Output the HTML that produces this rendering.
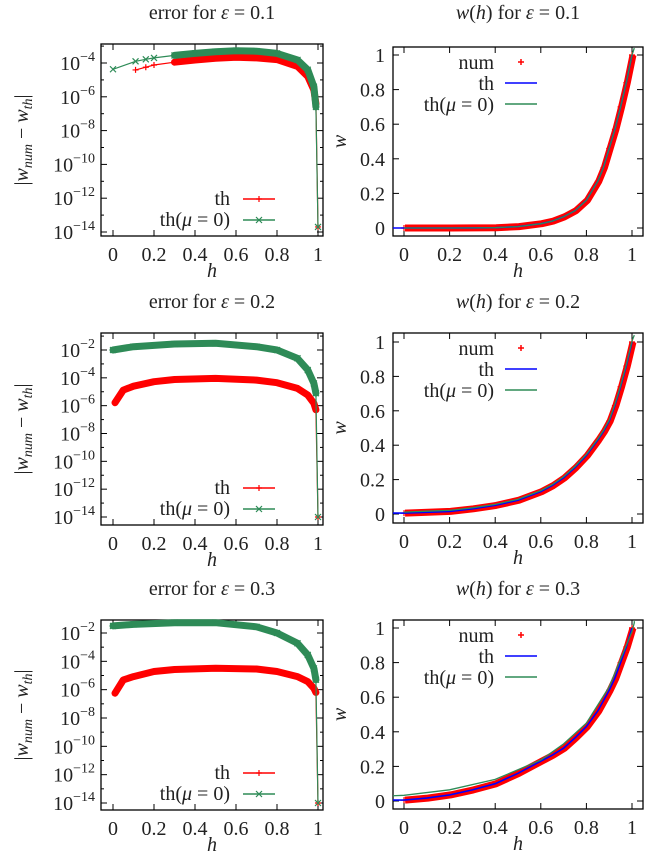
<!DOCTYPE html>
<html><head><meta charset="utf-8"><style>
html,body{margin:0;padding:0;background:#fff;}
svg{display:block;font-family:"Liberation Serif","DejaVu Serif",serif;}
</style></head><body>
<svg id="fig" width="651" height="861" viewBox="0 0 651 861" xmlns="http://www.w3.org/2000/svg"></svg>
<script>
// ---- data ----
const errH1 = [0.11,0.16,0.2,0.3,0.4,0.5,0.6,0.7,0.8,0.9,0.95,0.98,0.99,1.0];
const errTh1 = [-4.41,-4.25,-4.12,-3.95,-3.82,-3.72,-3.66,-3.7,-3.8,-4.2,-4.8,-5.6,-6.4,-13.7];
const errH1g = [0,0.11,0.16,0.2,0.3,0.4,0.5,0.6,0.7,0.8,0.9,0.95,0.98,0.99,1.0];
const errMu1 = [-4.37,-3.9,-3.78,-3.7,-3.55,-3.43,-3.33,-3.27,-3.3,-3.43,-3.82,-4.4,-5.4,-6.6,-13.7];
const errH = [0.01,0.05,0.1,0.2,0.3,0.5,0.7,0.8,0.9,0.95,0.98,0.99,1.0];
const errTh2 = [-5.79,-4.88,-4.6,-4.28,-4.12,-4.04,-4.16,-4.35,-4.76,-5.24,-5.83,-6.3,-14];
const errTh3 = [-6.25,-5.31,-5.08,-4.72,-4.58,-4.49,-4.54,-4.72,-5.08,-5.43,-5.9,-6.2,-14];
const errHg = [0,0.1,0.3,0.5,0.7,0.8,0.9,0.95,0.98,0.99,1.0];
const errMu2 = [-2.0,-1.76,-1.57,-1.52,-1.76,-2.0,-2.6,-3.44,-4.4,-5.1,-14];
const errMu3 = [-1.5,-1.39,-1.27,-1.27,-1.56,-2.0,-2.73,-3.55,-4.5,-5.3,-14];
const wH = [0,0.1,0.2,0.3,0.4,0.5,0.6,0.65,0.7,0.75,0.8,0.85,0.875,0.9,0.925,0.95,0.975,1.0];
const wTh1 = [0,0,0,0.0003,0.002,0.008,0.025,0.04,0.065,0.10,0.16,0.27,0.35,0.46,0.57,0.70,0.84,1.0];
const wTh2 = [0.005,0.01,0.015,0.03,0.05,0.08,0.13,0.165,0.21,0.27,0.34,0.43,0.48,0.54,0.63,0.74,0.86,1.0];
const wTh3 = [0.005,0.017,0.035,0.064,0.1,0.16,0.23,0.265,0.305,0.365,0.43,0.52,0.58,0.64,0.71,0.8,0.89,1.0];
const wHg = [-0.05,0,0.2,0.4,0.6,0.7,0.8,0.9,1.0,1.01];
const wMu3 = [0.03,0.033,0.065,0.125,0.237,0.33,0.45,0.66,0.98,1.03];
const xTicks = ['0','0.2','0.4','0.6','0.8','1'];
const logTicks = [-4,-6,-8,-10,-12,-14];
const logTicks2 = [-2,-4,-6,-8,-10,-12,-14];
const wTicks = ['0','0.2','0.4','0.6','0.8','1'];
const eps = ['0.1','0.2','0.3'];

const NS='http://www.w3.org/2000/svg';
const svg=document.getElementById('fig');
function mk(tag,attrs,parent){const e=document.createElementNS(NS,tag);for(const k in attrs)e.setAttribute(k,attrs[k]);(parent||svg).appendChild(e);return e;}
function txt(s,x,y,size,anchor,parent){const t=mk('text',{x:x,y:y,'font-size':size,'text-anchor':anchor||'middle',fill:'#222'},parent);t.innerHTML=s;return t;}

const rows=[
 {L:{t:44,b:236,a:-4,ay:63,c:-14,cy:232,ticks:logTicks,th:[errH1,errTh1],mu:[errH1g,errMu1],bandFrom:[3,4]},
  R:{t:47,b:236,y0:228,y1:55,th:wTh1,mu:[wH,wTh1],num:wTh1}},
 {L:{t:333,b:525,a:-2,ay:350,c:-14,cy:517,ticks:logTicks2,th:[errH,errTh2],mu:[errHg,errMu2],bandFrom:[0,0]},
  R:{t:333,b:523,y0:514,y1:342,th:wTh2,mu:[wH,wTh2.map(v=>v+0.006)],num:wTh2}},
 {L:{t:620,b:810,a:-2,ay:633,c:-14,cy:803,ticks:logTicks2,th:[errH,errTh3],mu:[errHg,errMu3],bandFrom:[0,0]},
  R:{t:620,b:809,y0:801,y1:628,th:wTh3,mu:[wHg,wMu3],num:wTh3}}
];
const LX={l:101,r:323,x0:113,x1:318}, RX={l:393,r:643,x0:404,x1:632};
const FS=20;

function sx(X,h){return X.x0+(X.x1-X.x0)*h;}
function pathOf(xs,ys,fx,fy){return xs.map((h,i)=>(i?'L':'M')+fx(h).toFixed(1)+','+fy(ys[i]).toFixed(1)).join(' ');}

function frame(X,P,g){
  const r=mk('rect',{x:X.l,y:P.t,width:X.r-X.l,height:P.b-P.t,fill:'none',stroke:'#000','stroke-width':1.3},g);
  
  xTicks.forEach((s,i)=>{const h=i*0.2,x=sx(X,h);
    mk('line',{x1:x,y1:P.b,x2:x,y2:P.b-6,stroke:'#000'},g);
    mk('line',{x1:x,y1:P.t,x2:x,y2:P.t+6,stroke:'#000'},g);
    const t=txt(s,x,P.b+25,FS,'middle',g);});
  const xl=txt('<tspan font-style="italic">h</tspan>',(X.l+X.r)/2,P.b+41,FS,'middle',g);
  
}

rows.forEach((row,ri)=>{
  const P=row.L, X=LX;
  const g=mk('g',{});
  const fy=v=>P.ay+(P.cy-P.ay)*(v-P.a)/(P.c-P.a);
  const tt=txt('error for <tspan font-style="italic">ε</tspan> = '+eps[ri],212,P.t-25,FS,'middle',g);
  
  frame(X,P,g);
  for(let d=P.a+2;d>=P.c-1;d-=1){const y=fy(d);if(y<P.t||y>P.b)continue;
    mk('line',{x1:X.l,y1:y,x2:X.l+(d%2?3:6),y2:y,stroke:'#000'},g);
    mk('line',{x1:X.r,y1:y,x2:X.r-(d%2?3:6),y2:y,stroke:'#000'},g);}
  P.ticks.forEach(d=>{const y=fy(d);
    const t=txt('10<tspan font-size="14" dy="-9">'+(d<0?'−'+(-d):d)+'</tspan>',X.l-6,y+7,FS,'end',g);
    });
  const yl=txt('|<tspan font-style="italic">w<tspan font-size="14" dy="4">num</tspan></tspan><tspan dy="-4"> − </tspan><tspan font-style="italic">w<tspan font-size="14" dy="4">th</tspan></tspan><tspan dy="-4">|</tspan>',0,0,FS,'middle',g);
  yl.setAttribute('transform','translate(28,'+((P.t+P.b)/2)+') rotate(-90)');
  
  const fx=h=>sx(X,h);
  [['#ff0000',P.th,'series-th',P.bandFrom[0]],['#2e8b57',P.mu,'series-th-mu0',P.bandFrom[1]]].forEach(([c,d,n,bf])=>{
    const pth=mk('path',{d:pathOf(d[0],d[1],fx,fy),fill:'none',stroke:c,'stroke-width':1.2},g);
    
    const xs=d[0].slice(bf,-1), ys=d[1].slice(bf,-1);
    const b=mk('path',{d:pathOf(xs,ys,fx,fy),fill:'none',stroke:c,'stroke-width':7,'stroke-linejoin':'round','stroke-linecap':'round'},g);
    
    d[0].forEach((h,i)=>{const x=fx(h),y=fy(d[1][i]);
      const m=mk('path',{d:c=='#ff0000'?`M${x-3},${y}h6M${x},${y-3}v6`:`M${x-3},${y-3}l6,6M${x-3},${y+3}l6,-6`,stroke:c,'stroke-width':1.2},g);
      });
  });
  const lg=mk('g',{},g);
  const ly1=P.b-37, ly2=P.b-16;
  txt('th',230,ly1+6,FS,'end',lg);
  mk('line',{x1:243,y1:ly1,x2:275,y2:ly1,stroke:'#ff0000','stroke-width':1.5},lg);
  mk('path',{d:`M256,${ly1}h6M259,${ly1-3}v6`,stroke:'#ff0000','stroke-width':1.2},lg);
  txt('th(<tspan font-style="italic">μ</tspan> = 0)',230,ly2+6,FS,'end',lg);
  mk('line',{x1:243,y1:ly2,x2:275,y2:ly2,stroke:'#2e8b57','stroke-width':1.5},lg);
  mk('path',{d:`M256,${ly2-3}l6,6M256,${ly2+3}l6,-6`,stroke:'#2e8b57','stroke-width':1.2},lg);

  const Q=row.R, Y=RX;
  const g2=mk('g',{});
  const gy=v=>Q.y0+(Q.y1-Q.y0)*v, gx=h=>sx(Y,h);
  const t2=txt('<tspan font-style="italic">w</tspan>(<tspan font-style="italic">h</tspan>) for <tspan font-style="italic">ε</tspan> = '+eps[ri],518,row.L.t-25,FS,'middle',g2);
  
  frame(Y,Q,g2);
  wTicks.forEach((s,i)=>{const y=gy(i*0.2);
    mk('line',{x1:Y.l,y1:y,x2:Y.l+6,y2:y,stroke:'#000'},g2);
    mk('line',{x1:Y.r,y1:y,x2:Y.r-6,y2:y,stroke:'#000'},g2);
    const t=txt(s,Y.l-8,y+7,FS,'end',g2);});
  const wl=txt('<tspan font-style="italic">w</tspan>',0,0,FS,'middle',g2);
  wl.setAttribute('transform','translate(346,'+((Q.t+Q.b)/2)+') rotate(-90)');
  
  const clip=mk('clipPath',{id:'c'+ri},g2);mk('rect',{x:Y.l,y:Q.t-4,width:Y.r-Y.l,height:Q.b-Q.t+4},clip);
  const cg=mk('g',{'clip-path':'url(#c'+ri+')'},g2);
  const nb=mk('path',{d:pathOf(wH,Q.num,h=>gx(h)+1,v=>gy(v)),fill:'none',stroke:'#ff0000','stroke-width':7,'stroke-linejoin':'round'},cg);
  
  wH.forEach((h,i)=>{const x=gx(h),y=gy(Q.num[i]);
    const m=mk('path',{d:`M${x-3},${y}h6M${x},${y-3}v6`,stroke:'#ff0000','stroke-width':1.2},cg);
    });
  const bl=mk('path',{d:pathOf([-0.05].concat(wH),[Q.th[0]].concat(Q.th),gx,gy),fill:'none',stroke:'#0000ff','stroke-width':1.6},cg);
  
  const gl=mk('path',{d:pathOf(Q.mu[0].concat([1.01]),Q.mu[1].concat([1.04]),gx,gy),fill:'none',stroke:'#2e8b57','stroke-width':1.3},cg);
  
  const lg2=mk('g',{},g2);
  const b0=Q.t+15;
  txt('num',494,b0+7,FS,'end',lg2);
  mk('path',{d:`M518,${b0}h6M521,${b0-3}v6`,stroke:'#ff0000','stroke-width':1.5},lg2);
  txt('th',494,b0+28,FS,'end',lg2);
  mk('line',{x1:505,y1:b0+21,x2:537,y2:b0+21,stroke:'#0000ff','stroke-width':1.6},lg2);
  txt('th(<tspan font-style="italic">μ</tspan> = 0)',494,b0+49,FS,'end',lg2);
  mk('line',{x1:505,y1:b0+42,x2:537,y2:b0+42,stroke:'#2e8b57','stroke-width':1.5},lg2);
});
</script>
</body></html>
